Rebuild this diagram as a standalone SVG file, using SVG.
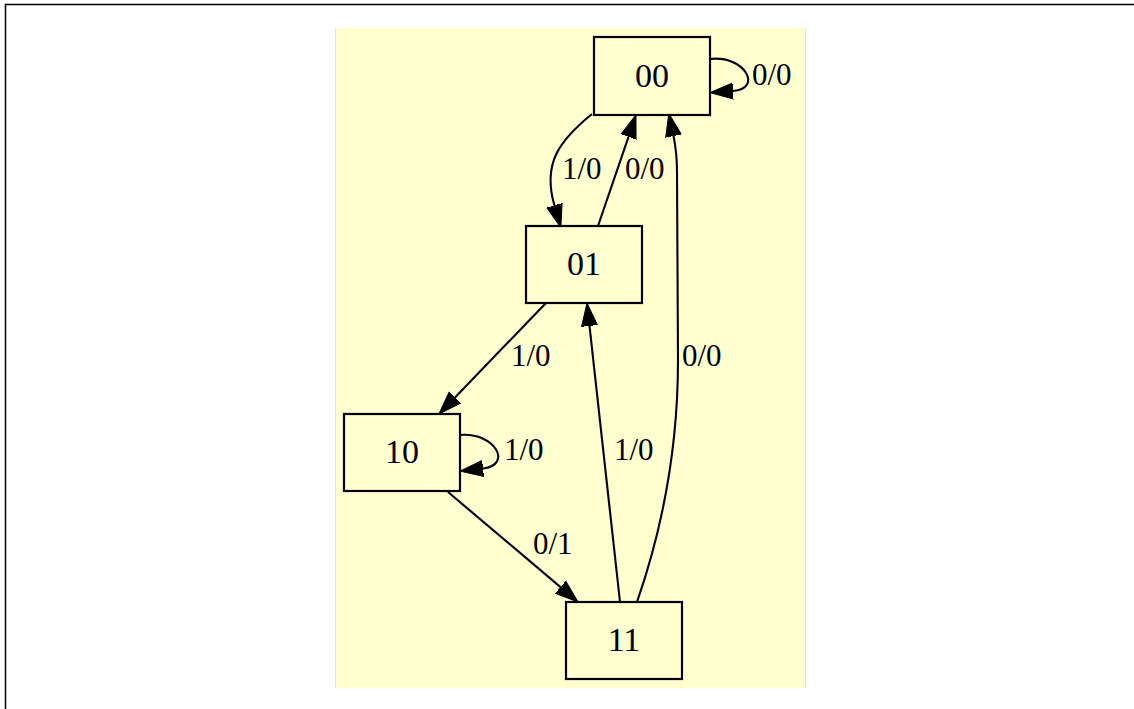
<svg xmlns="http://www.w3.org/2000/svg" width="1134" height="709" viewBox="0 0 1134 709">
<style>
.node rect{fill:#ffffd0;stroke:#000;stroke-width:2.2}
.node text{font-family:"Liberation Serif","Times New Roman",serif;font-size:34px;text-anchor:middle;fill:#000}
.edge path{fill:none;stroke:#000;stroke-width:2.1}
.lbl{font-family:"Liberation Serif","Times New Roman",serif;font-size:31px;fill:#000}
</style>
<defs>
<marker id="ah" markerUnits="userSpaceOnUse" viewBox="0 -10 24 20" refX="0" refY="0" markerWidth="24" markerHeight="20" orient="auto">
<path d="M0,-8 L23,0 L0,8 z" fill="#000" stroke="#000" stroke-width="1"/>
</marker>
</defs>
<rect x="0" y="0" width="1134" height="709" fill="#fff"/>
<path d="M5.5,709 V4.5 H1134" fill="none" stroke="#000" stroke-width="1.5"/>
<rect x="335" y="28" width="471" height="660" fill="#ffffd0"/>
<path d="M335.5,28 V688 M805.5,28 V688" stroke="#e2e2e2" stroke-width="1"/>
<g id="connectors" class="edge">
<path d="M710,59 C745,55 763,89 733,91" marker-end="url(#ah)"/>
<path d="M592,114 C560,140 542,163 554.4,205.4" marker-end="url(#ah)"/>
<path d="M598,226 L628.5,136.8" marker-end="url(#ah)"/>
<path d="M637,602 C662,530 678,450 678,360 C678,260 677,195 677,172 C677,158 676,148 673.5,136" marker-end="url(#ah)"/>
<path d="M546,303 L455,397.4" marker-end="url(#ah)"/>
<path d="M460,435 C495,432 513,465 483,468.5" marker-end="url(#ah)"/>
<path d="M620,602 L589.5,325.9" marker-end="url(#ah)"/>
<path d="M448,492 L560.5,587.1" marker-end="url(#ah)"/>
<text class="lbl" x="752" y="85">0/0</text>
<text class="lbl" x="562" y="179">1/0</text>
<text class="lbl" x="625" y="179">0/0</text>
<text class="lbl" x="682" y="366">0/0</text>
<text class="lbl" x="511" y="366">1/0</text>
<text class="lbl" x="504" y="460">1/0</text>
<text class="lbl" x="614" y="460">1/0</text>
<text class="lbl" x="533" y="554">0/1</text>
</g>
<g id="n00" class="node"><rect x="594" y="37" width="116" height="78"/><text x="652" y="87">00</text></g>
<g id="n01" class="node"><rect x="526" y="226" width="116" height="77"/><text x="584" y="275">01</text></g>
<g id="n10" class="node"><rect x="344" y="414" width="116" height="77"/><text x="402" y="463">10</text></g>
<g id="n11" class="node"><rect x="566" y="602" width="116" height="77"/><text x="624" y="651">11</text></g>
</svg>
